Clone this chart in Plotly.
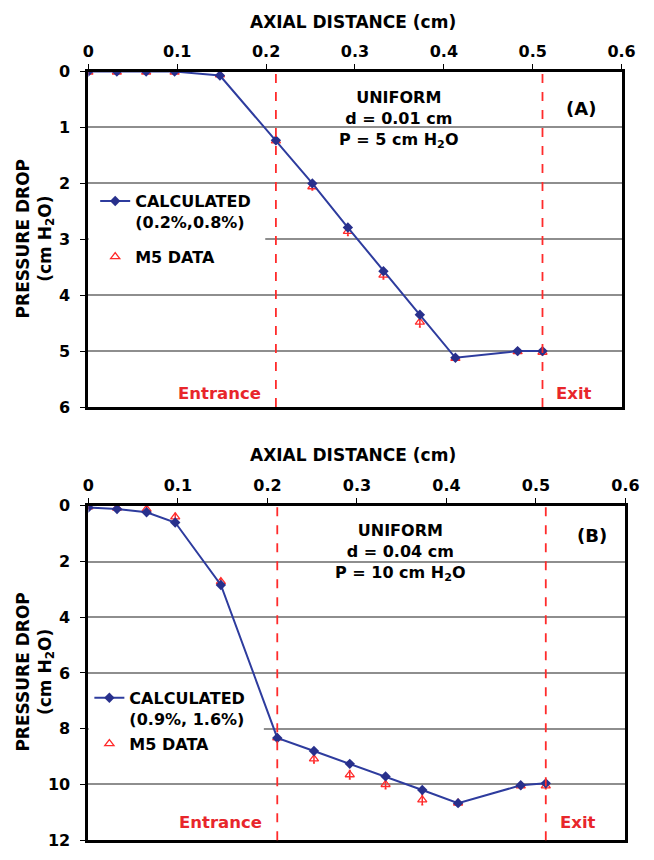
import plotly.graph_objects as go

# ---------------- data ----------------
axial_cm = [0, 0.032, 0.065, 0.097, 0.148, 0.211, 0.252, 0.292, 0.332, 0.373, 0.413, 0.483, 0.511]

calc_A = [0, 0, 0, 0, 0.07, 1.23, 2.0, 2.79, 3.57, 4.35, 5.12, 5.0, 5.0]
m5_A = [0.01, 0.01, 0.01, 0.01, 0.06, 1.24, 2.06, 2.86, 3.64, 4.48, 5.13, 5.01, 5.02]
m5_A_err = [0.03, 0.03, 0.03, 0.03, 0.04, 0.05, 0.06, 0.07, 0.07, 0.09, 0.04, 0.05, 0.05]

calc_B = [0.06, 0.12, 0.23, 0.6, 2.84, 8.33, 8.8, 9.26, 9.71, 10.2, 10.67, 10.03, 9.96]
m5_B = [0.04, 0.08, 0.12, 0.4, 2.72, 8.33, 9.08, 9.65, 10.0, 10.55, 10.67, 10.05, 10.05]
m5_B_err = [0.05, 0.05, 0.08, 0.12, 0.1, 0.12, 0.15, 0.15, 0.15, 0.18, 0.08, 0.1, 0.1]

boundary_x = [0.211, 0.511]          # Entrance, Exit
boundary_labels = ["Entrance", "Exit"]

x_ticks = [0, 0.1, 0.2, 0.3, 0.4, 0.5, 0.6]
x_ticktext = ["0", "0.1", "0.2", "0.3", "0.4", "0.5", "0.6"]

# ---------------- style ----------------
W, H = 654, 860
FONT = "DejaVu Sans"
BLUE_LINE = "#2E3C9E"
BLUE_MARK = "#28308C"
RED = "#FF2B2B"
RED_TXT = "#E8262B"
GRID = "#8E8E8E"


def px(xp):
    return xp / W


def py(yp):
    return 1 - yp / H


fig = go.Figure()

panels = [
    dict(xa="x", ya="y", calc=calc_A, m5=m5_A, err=m5_A_err, leg=("legend", "legend2"),
         calc_name="CALCULATED<br>(0.2%,0.8%)"),
    dict(xa="x2", ya="y2", calc=calc_B, m5=m5_B, err=m5_B_err, leg=("legend3", "legend4"),
         calc_name="CALCULATED<br>(0.9%, 1.6%)"),
]

for p in panels:
    fig.add_trace(go.Scatter(
        x=axial_cm, y=p["m5"], xaxis=p["xa"], yaxis=p["ya"], mode="markers",
        name="M5 DATA", legend=p["leg"][1], showlegend=True,
        marker=dict(symbol="triangle-up-open", size=8, color=RED, line=dict(width=1.3, color=RED)),
        error_y=dict(type="data", array=p["err"], color=RED, thickness=1.5, width=1),
    ))
    fig.add_trace(go.Scatter(
        x=axial_cm, y=p["calc"], xaxis=p["xa"], yaxis=p["ya"], mode="lines+markers",
        name=p["calc_name"], legend=p["leg"][0], showlegend=True,
        line=dict(color=BLUE_LINE, width=2),
        marker=dict(symbol="diamond", size=8, color=BLUE_MARK),
    ))

# ---------------- axes ----------------
tick_font = dict(family=FONT, size=16, color="black", weight="bold")
common_x = dict(range=[0, 0.6], side="top", tickvals=x_ticks, ticktext=x_ticktext,
                showgrid=False, zeroline=False, showline=True, mirror=True,
                linecolor="black", linewidth=3, ticks="outside", ticklen=5,
                tickcolor="black", tickwidth=1, tickfont=tick_font, ticklabeloverflow="allow")
common_y = dict(showgrid=True, gridcolor=GRID, gridwidth=1.5, zeroline=False,
                showline=True, mirror=True, linecolor="black", linewidth=3,
                ticks="outside", ticklen=5, tickcolor="black", tickwidth=1,
                tickfont=tick_font, ticklabelstandoff=7)

fig.update_layout(
    width=W, height=H, margin=dict(l=0, r=0, t=0, b=0),
    paper_bgcolor="white", plot_bgcolor="white", showlegend=True,
    font=dict(family=FONT, size=16, color="black"),
    xaxis=dict(domain=[px(85), px(635)], anchor="y", **common_x),
    yaxis=dict(domain=[py(407), py(64)], anchor="x", range=[6, 0], dtick=1, **common_y),
    xaxis2=dict(domain=[px(85), px(639)], anchor="y2", **common_x),
    yaxis2=dict(domain=[py(850), py(508)], anchor="x2", range=[12, 0], dtick=2, **common_y),
)

leg_font = dict(family=FONT, size=16, color="black", weight="bold")
leg_common = dict(bgcolor="rgba(0,0,0,0)", borderwidth=0, font=leg_font, visible=True,
                  xanchor="left", yanchor="top", valign="top", itemwidth=30)
fig.update_layout(
    legend=dict(x=px(92), y=py(179), **leg_common),
    legend2=dict(x=px(92), y=py(236), **leg_common),
    legend3=dict(x=px(86), y=py(687), **leg_common),
    legend4=dict(x=px(86), y=py(734), **leg_common),
)

# white box behind legends (covers gridlines only)
fig.add_shape(type="rect", xref="x", yref="y", x0=0, x1=0.199, y0=2.15, y1=3.6,
              fillcolor="white", line_width=0, layer="between")
fig.add_shape(type="rect", xref="x2", yref="y2", x0=0, x1=0.196, y0=6.4, y1=9.4,
              fillcolor="white", line_width=0, layer="between")

# dashed boundary lines + labels
for xa, ya, lab_y in [("x", "y", 5.75), ("x2", "y2", 11.37)]:
    for bx in boundary_x:
        fig.add_shape(type="line", xref=xa, yref=f"{ya} domain", x0=bx, x1=bx, y0=0, y1=1,
                      line=dict(color=RED, width=1.8, dash="dash"), layer="above")
    fig.add_annotation(xref=xa, yref=ya, x=boundary_x[0], y=lab_y, text=boundary_labels[0],
                       xanchor="right", yanchor="middle", xshift=-13, showarrow=False,
                       font=dict(family=FONT, size=16.5, color=RED_TXT, weight="bold"))
    fig.add_annotation(xref=xa, yref=ya, x=boundary_x[1], y=lab_y, text=boundary_labels[1],
                       xanchor="left", yanchor="middle", xshift=12, showarrow=False,
                       font=dict(family=FONT, size=16.5, color=RED_TXT, weight="bold"))

txt_font = dict(family=FONT, size=16, color="black", weight="bold")
title_font = dict(family=FONT, size=17, color="black", weight="bold")


def note(xp, yp, text, font):
    fig.add_annotation(xref="paper", yref="paper", x=px(xp), y=py(yp), text=text,
                       xanchor="center", yanchor="middle", showarrow=False, font=font)


# axis titles
for yt in (13, 456):
    note(358, yt, "AXIAL DISTANCE (cm)", title_font)
for yc in (235.5, 678.5):
    fig.add_annotation(xref="paper", yref="paper", x=px(30), y=py(yc),
                       xanchor="center", yanchor="middle",
                       text="PRESSURE DROP<br>(cm H<sub>2</sub>O)", textangle=-90,
                       showarrow=False, font=title_font)

# condition notes
note(405, 113, "UNIFORM<br>d = 0.01 cm<br>P = 5 cm H<sub>2</sub>O", txt_font)
note(407, 556, "UNIFORM<br>d = 0.04 cm<br>P = 10 cm H<sub>2</sub>O", txt_font)
note(593, 102, "(A)", dict(family=FONT, size=18, color="black", weight="bold"))
note(605, 538, "(B)", dict(family=FONT, size=18, color="black", weight="bold"))

fig.write_html("out.html")
